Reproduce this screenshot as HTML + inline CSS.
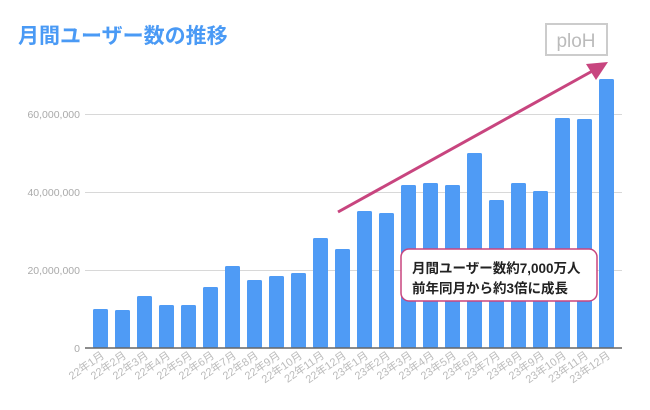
<!DOCTYPE html>
<html><head><meta charset="utf-8"><style>
body{margin:0;background:#fff;width:650px;height:405px;overflow:hidden;font-family:"Liberation Sans","Noto Sans CJK JP",sans-serif}
</style></head><body>
<svg width="650" height="405" xmlns="http://www.w3.org/2000/svg" font-family="Liberation Sans, Noto Sans CJK JP, sans-serif">
<text x="18" y="43" font-size="21" font-weight="bold" fill="#4a9af5">月間ユーザー数の推移</text>
<rect x="546" y="24" width="61" height="31" fill="none" stroke="#ccc" stroke-width="2"/>
<text x="576" y="47" font-size="19" fill="#bbb" text-anchor="middle">ploH</text>
<g stroke="#d8d8d8" stroke-width="1">
<line x1="85" y1="114.5" x2="622" y2="114.5"/><line x1="85" y1="192.5" x2="622" y2="192.5"/><line x1="85" y1="270.5" x2="622" y2="270.5"/>
</g>
<g font-size="10.5" fill="#aaa" text-anchor="end">
<text x="80" y="118">60,000,000</text><text x="80" y="196">40,000,000</text><text x="80" y="274">20,000,000</text><text x="80" y="352">0</text>
</g>
<g fill="#4f9bf5" id="bars"></g>
<line x1="85" y1="348" x2="622" y2="348" stroke="#666" stroke-width="1.5"/>
<g id="labels" font-size="11" fill="#bbb" text-anchor="end"></g>
<line x1="338" y1="212" x2="596" y2="69" stroke="#c8457f" stroke-width="3"/>
<polygon points="608,62 586,64 596,80" fill="#c8457f"/>
<rect x="401" y="249" width="196" height="52" rx="8" fill="#fff" stroke="#c8457f" stroke-width="1.5"/>
<text x="412" y="273" font-size="13.5" font-weight="bold" fill="#222">月間ユーザー数約7,000万人</text>
<text x="412" y="293" font-size="13.5" font-weight="bold" fill="#222">前年同月から約3倍に成長</text>
</svg>
<script>
var tops=[309,310,296,305,305,287,266,280,276,273,238,249,211,213,185,183,185,153,200,183,191,118,119,79];
var b=document.getElementById('bars'),l=document.getElementById('labels'),ns="http://www.w3.org/2000/svg";
tops.forEach(function(t,i){var x=93+i*22;var r=document.createElementNS(ns,'rect');r.setAttribute('x',x);r.setAttribute('y',t);r.setAttribute('width',15);r.setAttribute('height',348-t);r.setAttribute('rx',1.5);b.appendChild(r);
var tx=document.createElementNS(ns,'text');var cx=x+12,cy=357;tx.setAttribute('transform','translate('+cx+','+cy+') rotate(-35)');tx.textContent=(i<12?'22':'23')+'年'+(i%12+1)+'月';l.appendChild(tx);});
</script>
</body></html>
